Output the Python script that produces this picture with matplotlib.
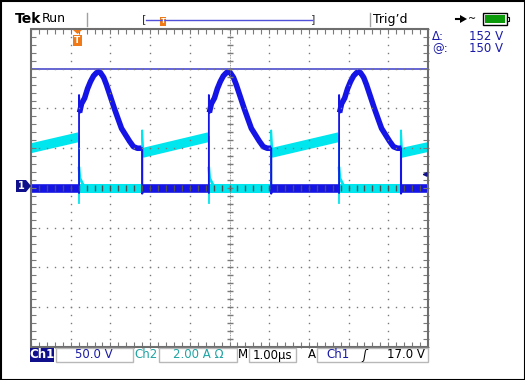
import matplotlib
matplotlib.use("Agg")
import matplotlib.pyplot as plt
from matplotlib.patches import Rectangle, Polygon
import numpy as np

# scope settings
ch1_scale = 50.0      # V/div
ch2_scale = 2.00      # A/div
cursor_v = 150.0      # V
trig_v = 17.0         # V

# edges of the switch node (us)
rise_t = [1.21, 4.48, 7.76]
fall_t = [2.80, 6.05, 9.32]

# Ch1 pulse shape after each rise edge (us from rise, V)
pulse_dt = [0.013, 0.063, 0.14, 0.215, 0.29, 0.365, 0.44, 0.49, 0.54, 0.62,
            0.69, 0.79, 0.89, 0.99, 1.07, 1.17, 1.27, 1.37, 1.47, 1.57]
pulse_v = [95, 106, 113, 125, 134, 141, 145, 146, 145, 139,
           130, 115, 100, 86, 75, 67, 59, 52, 50, 50]
ch1_rise_spike = 117.0   # V
ch1_fall_spike = -7.0    # V

# Ch2 current ramps while the switch is on (us, A)
ramp_t0 = [0.0, 2.80, 6.05, 9.32]
ramp_t1 = [1.21, 4.48, 7.76, 10.0]
ramp_a0 = [2.00, 1.76, 1.76, 1.76]
ramp_a1 = [2.56, 2.56, 2.56, 2.06]
ch2_fall_spike = 2.9     # A
ch2_rise_low = -0.75     # A
ch2_rise_ring = 1.0      # A

BLUE = "#1414e6"
CYAN = "#00e6ee"
NAVY = "#10108c"
TEAL = "#1fa3a3"
GRAY = "#7a7a7a"

W, H = 525, 380
fig = plt.figure(figsize=(W / 100, H / 100), dpi=100)
fig.patch.set_facecolor("white")


def fx(px):
    return px / W


def fy(py):
    return 1 - py / H


ax = fig.add_axes([fx(31), fy(347), 397 / W, 318 / H])
ax.set_xlim(0, 10)
ax.set_ylim(-4, 4)
ax.axis("off")

# ---- traces ----
# Ch2 (cyan): ramps during on-time, zero during off-time
for i in range(len(ramp_t0)):
    ax.plot([ramp_t0[i], ramp_t1[i]],
            [ramp_a0[i] / ch2_scale, ramp_a1[i] / ch2_scale],
            color=CYAN, lw=7, solid_capstyle="butt", zorder=2)
for i in range(len(rise_t)):
    ax.plot([rise_t[i], fall_t[i]], [0, 0], color=CYAN, lw=6.5,
            solid_capstyle="butt", zorder=2)
    # edge at switch-off of the current
    ax.plot([rise_t[i], rise_t[i]],
            [ramp_a1[i] / ch2_scale, ch2_rise_low / ch2_scale],
            color=CYAN, lw=1.3, zorder=2)
    ax.plot([rise_t[i], rise_t[i] + 0.02, rise_t[i] + 0.12],
            [ch2_rise_ring / ch2_scale, 0.25, 0.05],
            color=CYAN, lw=2, zorder=2)
    ax.plot([fall_t[i], fall_t[i], fall_t[i] + 0.03],
            [0, ch2_fall_spike / ch2_scale, ramp_a0[i + 1] / ch2_scale],
            color=CYAN, lw=1.3, zorder=2)

# Ch1 (blue): zero during on-time, pulse during off-time
on_t0 = [0.0] + fall_t
on_t1 = rise_t + [10.0]
for a, b in zip(on_t0, on_t1):
    ax.plot([a, b], [0, 0], color=BLUE, lw=6.2, solid_capstyle="butt", zorder=3)
for i in range(len(rise_t)):
    t = [rise_t[i] + d for d in pulse_dt]
    v = [p / ch1_scale for p in pulse_v]
    ax.plot(t, v, color=BLUE, lw=4.0, solid_joinstyle="round",
            solid_capstyle="butt", zorder=3)
    ax.plot([rise_t[i], rise_t[i], rise_t[i] + 0.03],
            [-0.12, ch1_rise_spike / ch1_scale, pulse_v[0] / ch1_scale],
            color=BLUE, lw=1.3, zorder=3)
    ax.plot([fall_t[i] - 0.04, fall_t[i], fall_t[i], fall_t[i] + 0.03],
            [pulse_v[-1] / ch1_scale, pulse_v[-1] / ch1_scale,
             ch1_fall_spike / ch1_scale, 0],
            color=BLUE, lw=1.5, zorder=3)

# cursor
ax.axhline(cursor_v / ch1_scale, color="#4a4ad0", lw=1.2, zorder=4)

# ---- graticule ----
sub = np.arange(-4, 4.01, 0.2)
subx = np.arange(0, 10.01, 0.2)
for gx in range(1, 10):
    if gx == 5:
        continue
    ax.plot([gx] * len(sub), sub, ls="none", marker="s", ms=1.0,
            mec="none", mfc=GRAY, zorder=5, clip_on=False)
for gy in range(-3, 4):
    if gy == 0:
        continue
    ax.plot(subx, [gy] * len(subx), ls="none", marker="s", ms=1.0,
            mec="none", mfc=GRAY, zorder=5, clip_on=False)
# center axes with ticks
ax.plot([5] * len(sub), sub, ls="none", marker="_", ms=5, mew=1,
        color=GRAY, zorder=5)
ax.plot(subx, [0] * len(subx), ls="none", marker="|", ms=5, mew=1,
        color="#505050", zorder=5)
ax.plot([5, 5], [-4, 4], color=GRAY, lw=0.6, ls=(0, (1, 1)), zorder=5)
# border ticks
ax.plot(subx, [3.96] * len(subx), ls="none", marker="|", ms=4, mew=0.8,
        color=GRAY, zorder=5, clip_on=False)
ax.plot(subx, [-3.96] * len(subx), ls="none", marker="|", ms=4, mew=0.8,
        color=GRAY, zorder=5, clip_on=False)
ax.plot([0.04] * len(sub), sub, ls="none", marker="_", ms=4, mew=0.8,
        color=GRAY, zorder=5, clip_on=False)
ax.plot([9.96] * len(sub), sub, ls="none", marker="_", ms=4, mew=0.8,
        color=GRAY, zorder=5, clip_on=False)
ax.add_patch(Rectangle((0, -4), 10, 8, fill=False, ec="#6e6e6e", lw=1.5,
                       zorder=6, clip_on=False))

# ---- screen furniture ----
fig.patches.append(Rectangle((fx(0.5), fy(379.5)), 524 / W, 379 / H,
                             transform=fig.transFigure, fill=False,
                             ec="black", lw=1.5))

fig.text(fx(15), fy(19), "Tek", fontsize=10, weight="bold", va="center",
         ha="left")
fig.text(fx(42), fy(19), "Run", fontsize=9, va="center", ha="left")
fig.add_artist(plt.Line2D([fx(87), fx(87)], [fy(13), fy(26)], color="#a0a0a0",
                          lw=1))
fig.add_artist(plt.Line2D([fx(370), fx(370)], [fy(13), fy(26)], color="#a0a0a0",
                          lw=1))
# record position bar
fig.add_artist(plt.Line2D([fx(146), fx(312)], [fy(20), fy(20)], color="#5050d8",
                          lw=1))
fig.text(fx(144), fy(19), "[", fontsize=8, va="center", ha="center", color="#333")
fig.text(fx(313), fy(19), "]", fontsize=8, va="center", ha="center", color="#333")
fig.patches.append(Rectangle((fx(160), fy(26)), 6 / W, 9 / H,
                             transform=fig.transFigure, fc="#f07a18", ec="none"))
fig.text(fx(163), fy(21), "T", fontsize=5, va="center", ha="center",
         color="white", weight="bold")
fig.text(fx(373), fy(19), "Trig\u2019d", fontsize=9, va="center", ha="left")

# plug + battery
fig.patches.append(Polygon([[fx(460), fy(15)], [fx(467), fy(19)], [fx(460), fy(23)]],
                           closed=True, transform=fig.transFigure,
                           fc="black", ec="none"))
fig.add_artist(plt.Line2D([fx(456), fx(462)], [fy(19), fy(19)], color="black", lw=1.5))
fig.text(fx(472), fy(18.5), "~", fontsize=7, va="center", ha="center")
fig.patches.append(Rectangle((fx(483), fy(25)), 24 / W, 12 / H,
                             transform=fig.transFigure, fc="white", ec="black",
                             lw=1))
fig.patches.append(Rectangle((fx(485), fy(23)), 20 / W, 8 / H,
                             transform=fig.transFigure, fc="#0a9a0a", ec="none"))
fig.patches.append(Rectangle((fx(507), fy(21)), 2 / W, 4 / H,
                             transform=fig.transFigure, fc="white", ec="black",
                             lw=0.8))

# trigger position marker
fig.patches.append(Polygon([[fx(73), fy(30)], [fx(82), fy(30)], [fx(77.5), fy(34)]],
                           closed=True, transform=fig.transFigure,
                           fc="#f07a18", ec="none"))
fig.patches.append(Rectangle((fx(73), fy(46)), 9 / W, 11 / H,
                             transform=fig.transFigure, fc="#f07a18", ec="none"))
fig.text(fx(77.5), fy(40.5), "T", fontsize=6.5, va="center", ha="center",
         color="white", weight="bold")

# ch1 ground marker
fig.patches.append(Polygon([[fx(16), fy(180)], [fx(26), fy(180)], [fx(31), fy(186)],
                            [fx(26), fy(192)], [fx(16), fy(192)]],
                           closed=True, transform=fig.transFigure,
                           fc=NAVY, ec="none"))
fig.text(fx(21.5), fy(186), "1", fontsize=7, weight="bold", color="white",
         va="center", ha="center")

# trigger level arrow
ax.annotate("", xy=(9.78, trig_v / ch1_scale), xytext=(10.0, trig_v / ch1_scale),
            arrowprops=dict(arrowstyle="-|>", color=NAVY, lw=1,
                            mutation_scale=6), zorder=7)

# cursor readouts
RB = "#1a1aa6"
fig.text(fx(432), fy(36), "\u0394:", fontsize=8.5, color=RB, va="center")
fig.text(fx(503), fy(36), "152 V", fontsize=8.5, color=RB, va="center", ha="right")
fig.text(fx(432), fy(49), "@:", fontsize=8.5, color=RB, va="center")
fig.text(fx(503), fy(49), "150 V", fontsize=8.5, color=RB, va="center", ha="right")

# bottom readouts
def box(x0, x1):
    fig.patches.append(Rectangle((fx(x0), fy(362)), (x1 - x0) / W, 14 / H,
                                 transform=fig.transFigure, fc="white",
                                 ec="#b8b8b8", lw=1))

fig.patches.append(Rectangle((fx(30), fy(362)), 24 / W, 14 / H,
                             transform=fig.transFigure, fc=NAVY, ec="none"))
fig.text(fx(42), fy(355), "Ch1", fontsize=8.5, color="white", va="center",
         ha="center", weight="bold")
box(56, 133)
fig.text(fx(94), fy(355), "50.0 V", fontsize=8.5, color=RB, va="center", ha="center")
fig.text(fx(146), fy(355), "Ch2", fontsize=8.5, color=TEAL, va="center", ha="center")
box(159, 237)
fig.text(fx(198), fy(355), "2.00 A \u03a9", fontsize=8.5, color=TEAL, va="center",
         ha="center")
fig.text(fx(243), fy(355), "M", fontsize=8.5, color="black", va="center", ha="center")
box(249, 296)
fig.text(fx(272), fy(355), "1.00\u00b5s", fontsize=8.5, color="black", va="center",
         ha="center")
fig.text(fx(312), fy(355), "A", fontsize=8.5, color="black", va="center", ha="center")
box(317, 428)
fig.text(fx(338), fy(355), "Ch1", fontsize=8.5, color=RB, va="center", ha="center")
fig.text(fx(364), fy(355), "\u0283", fontsize=8.5, color="black", va="center",
         ha="center", style="italic")
fig.text(fx(425), fy(355), "17.0 V", fontsize=8.5, color="black", va="center",
         ha="right")

fig.savefig("out.png", dpi=100)
